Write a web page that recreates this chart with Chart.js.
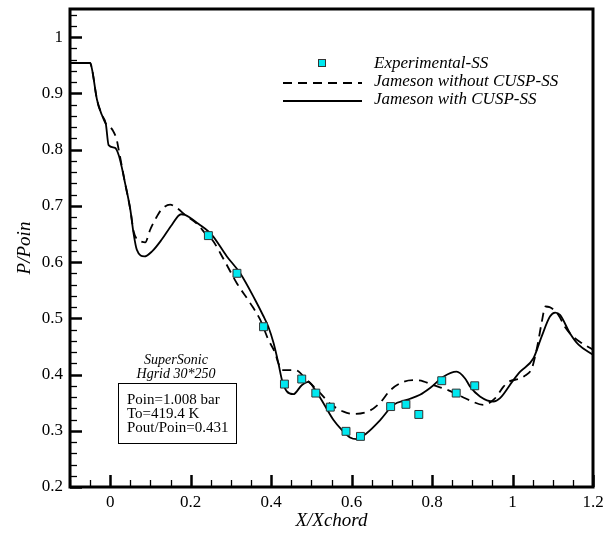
<!DOCTYPE html>
<html>
<head>
<meta charset="utf-8">
<script src="https://cdn.jsdelivr.net/npm/chart.js@4/dist/chart.umd.min.js"></script>
<style>
  html, body { margin: 0; padding: 0; background: #fff; }
</style>
</head>
<body>
<canvas id="grafico" width="616" height="533"></canvas>
<script>
// Experimental points (X/Xchord, P/Poin)
const expX = [0.244, 0.315, 0.381, 0.433, 0.476, 0.511, 0.547, 0.586, 0.622, 0.697, 0.735, 0.767, 0.824, 0.860, 0.906];
const expY = [0.647, 0.580, 0.485, 0.383, 0.392, 0.367, 0.342, 0.299, 0.290, 0.343, 0.347, 0.329, 0.389, 0.367, 0.380];

// Jameson without CUSP (dashed)
const semCuspX = [-0.1, -0.05, -0.045, -0.033, -0.021, -0.011, 0.0, 0.008, 0.016, 0.021, 0.037, 0.050, 0.058, 0.066, 0.075, 0.087,
  0.099, 0.116, 0.128, 0.149, 0.166, 0.186, 0.219, 0.236, 0.253, 0.282, 0.315, 0.348, 0.373, 0.393, 0.410, 0.418, 0.427,
  0.460, 0.489, 0.522, 0.547, 0.580, 0.605, 0.646, 0.671, 0.696, 0.729, 0.754, 0.778, 0.803, 0.837, 0.870, 0.894, 0.927,
  0.957, 0.977, 0.990, 1.019, 1.031, 1.048, 1.056, 1.064, 1.072, 1.082, 1.092, 1.114, 1.130, 1.151, 1.172, 1.2];
const semCuspY = [0.954, 0.954, 0.942, 0.889, 0.862, 0.846, 0.840, 0.832, 0.818, 0.800, 0.740, 0.693, 0.655, 0.641, 0.637, 0.635,
  0.657, 0.681, 0.694, 0.702, 0.696, 0.684, 0.666, 0.651, 0.640, 0.605, 0.562, 0.527, 0.497, 0.462, 0.438, 0.420, 0.408,
  0.408, 0.390, 0.367, 0.348, 0.334, 0.330, 0.336, 0.350, 0.372, 0.387, 0.390, 0.388, 0.381, 0.373, 0.362, 0.354, 0.346,
  0.358, 0.378, 0.387, 0.393, 0.398, 0.411, 0.432, 0.459, 0.491, 0.521, 0.520, 0.506, 0.485, 0.467, 0.456, 0.444];

// Jameson with CUSP (solid)
const comCuspX = [-0.1, -0.05, -0.045, -0.033, -0.021, -0.011, -0.004, 0.012, 0.022, 0.037, 0.050, 0.058, 0.066, 0.085, 0.104,
  0.128, 0.153, 0.176, 0.186, 0.219, 0.253, 0.290, 0.323, 0.360, 0.380, 0.393, 0.406, 0.418, 0.427, 0.439, 0.455, 0.476,
  0.493, 0.509, 0.530, 0.555, 0.575, 0.596, 0.613, 0.638, 0.671, 0.704, 0.737, 0.770, 0.795, 0.828, 0.861, 0.882, 0.894,
  0.919, 0.952, 0.969, 1.002, 1.019, 1.052, 1.072, 1.093, 1.106, 1.118, 1.143, 1.164, 1.2];
const comCuspY = [0.954, 0.954, 0.942, 0.889, 0.862, 0.846, 0.808, 0.803, 0.788, 0.740, 0.693, 0.651, 0.622, 0.610, 0.619,
  0.640, 0.666, 0.685, 0.684, 0.668, 0.648, 0.610, 0.580, 0.533, 0.505, 0.485, 0.456, 0.420, 0.390, 0.370, 0.365, 0.381,
  0.387, 0.373, 0.349, 0.319, 0.302, 0.288, 0.285, 0.296, 0.319, 0.346, 0.355, 0.364, 0.376, 0.396, 0.405, 0.393, 0.379,
  0.361, 0.352, 0.358, 0.390, 0.405, 0.429, 0.467, 0.503, 0.510, 0.506, 0.473, 0.453, 0.435];

// Tick labels
const xTicks = [0, 0.2, 0.4, 0.6, 0.8, 1, 1.2];
const yTicks = [0.2, 0.3, 0.4, 0.5, 0.6, 0.7, 0.8, 0.9, 1];

const serif = '"Liberation Serif", "Times New Roman", serif';
const ciano = 'rgb(0, 232, 240)';

function pares(xs, ys) {
  return xs.map((x, i) => ({ x: x, y: ys[i] }));
}

function formatar(v) {
  return String(+v.toFixed(2));
}

// Inward ticks (major + minor) and the frame
const eixosPlugin = {
  id: 'eixos',
  afterDatasetsDraw(chart) {
    const { ctx, chartArea: a, scales: { x, y } } = chart;
    ctx.save();
    ctx.strokeStyle = '#000';

    for (let i = -2; i <= 24; i++) {
      const v = i * 0.05;
      const px = Math.round(x.getPixelForValue(v)) + 0.5;
      const major = i % 4 === 0;
      ctx.lineWidth = major ? 2.5 : 1.3;
      ctx.beginPath();
      ctx.moveTo(px, a.bottom);
      ctx.lineTo(px, a.bottom - (major ? 12 : 7));
      ctx.stroke();
    }
    for (let i = 10; i <= 52; i++) {
      const v = i * 0.02;
      const py = Math.round(y.getPixelForValue(v)) + 0.5;
      const major = i % 5 === 0;
      ctx.lineWidth = major ? 2.5 : 1.3;
      ctx.beginPath();
      ctx.moveTo(a.left, py);
      ctx.lineTo(a.left + (major ? 12 : 7), py);
      ctx.stroke();
    }

    ctx.lineWidth = 3;
    ctx.strokeRect(a.left, a.top, a.right - a.left, a.bottom - a.top);
    ctx.restore();
  }
};

// Legend and annotation box
const legendaPlugin = {
  id: 'legenda',
  afterDraw(chart) {
    const ctx = chart.ctx;
    const ds = chart.data.datasets;
    ctx.save();
    ctx.fillStyle = '#000';
    ctx.textBaseline = 'middle';
    ctx.textAlign = 'left';
    ctx.font = 'italic 17px ' + serif;
    ctx.fillText(ds[0].label, 374, 64);
    ctx.fillText(ds[1].label, 374, 82);
    ctx.fillText(ds[2].label, 374, 100);

    ctx.fillStyle = ciano;
    ctx.strokeStyle = '#333';
    ctx.lineWidth = 1;
    ctx.fillRect(318.5, 59.5, 7, 7);
    ctx.strokeRect(318.5, 59.5, 7, 7);

    ctx.strokeStyle = '#000';
    ctx.lineWidth = 1.8;
    ctx.setLineDash([9, 6]);
    ctx.beginPath();
    ctx.moveTo(283, 83);
    ctx.lineTo(362, 83);
    ctx.stroke();
    ctx.setLineDash([]);
    ctx.beginPath();
    ctx.moveTo(283, 101);
    ctx.lineTo(362, 101);
    ctx.stroke();

    // Annotation
    ctx.fillStyle = '#000';
    ctx.textAlign = 'center';
    ctx.font = 'italic 14px ' + serif;
    ctx.fillText('SuperSonic', 176, 360);
    ctx.fillText('Hgrid 30*250', 176, 374);
    ctx.lineWidth = 1;
    ctx.strokeRect(118.5, 383.5, 118, 60);
    ctx.textAlign = 'left';
    ctx.font = '15px ' + serif;
    ctx.fillText('Poin=1.008 bar', 127, 400);
    ctx.fillText('To=419.4 K', 127, 414);
    ctx.fillText('Pout/Poin=0.431', 127, 428);
    ctx.restore();
  }
};

function gerarGrafico() {
  const ctx = document.getElementById('grafico').getContext('2d');
  new Chart(ctx, {
    type: 'scatter',
    data: {
      datasets: [{
        label: 'Experimental-SS',
        data: pares(expX, expY),
        pointStyle: 'rect',
        pointRadius: 5.6,
        backgroundColor: ciano,
        borderColor: '#333',
        borderWidth: 1,
        showLine: false
      }, {
        label: 'Jameson without CUSP-SS',
        data: pares(semCuspX, semCuspY),
        showLine: true,
        borderColor: '#000',
        borderWidth: 1.8,
        borderDash: [9, 6],
        pointRadius: 0,
        cubicInterpolationMode: 'monotone'
      }, {
        label: 'Jameson with CUSP-SS',
        data: pares(comCuspX, comCuspY),
        showLine: true,
        borderColor: '#000',
        borderWidth: 1.8,
        pointRadius: 0,
        cubicInterpolationMode: 'monotone'
      }]
    },
    options: {
      responsive: false,
      animation: false,
      devicePixelRatio: 1,
      layout: { padding: { top: 9, right: 23, left: 0, bottom: 0 } },
      plugins: {
        legend: { display: false },
        tooltip: { enabled: false }
      },
      scales: {
        x: {
          type: 'linear',
          min: -0.1,
          max: 1.2,
          afterBuildTicks: s => { s.ticks = xTicks.map(v => ({ value: v })); },
          afterFit: s => { s.height = 46; s.paddingLeft = 0; s.paddingRight = 0; },
          grid: { display: false, drawTicks: false },
          border: { display: false },
          ticks: {
            color: '#000',
            font: { family: serif, size: 17 },
            padding: 5,
            maxRotation: 0,
            autoSkip: false,
            callback: v => formatar(v)
          },
          title: {
            display: true,
            text: 'X/Xchord',
            color: '#000',
            font: { family: serif, size: 19, style: 'italic' },
            padding: { top: 0, bottom: 1 }
          }
        },
        y: {
          type: 'linear',
          min: 0.2,
          max: 1.05,
          afterBuildTicks: s => { s.ticks = yTicks.map(v => ({ value: v })); },
          afterFit: s => { s.width = 70; s.paddingTop = 0; s.paddingBottom = 0; },
          grid: { display: false, drawTicks: false },
          border: { display: false },
          ticks: {
            color: '#000',
            font: { family: serif, size: 17 },
            padding: 7,
            autoSkip: false,
            callback: v => formatar(v)
          },
          title: {
            display: true,
            text: 'P/Poin',
            color: '#000',
            font: { family: serif, size: 19, style: 'italic' },
            padding: { top: 14, bottom: 0 }
          }
        }
      }
    },
    plugins: [eixosPlugin, legendaPlugin]
  });
}

document.addEventListener('DOMContentLoaded', gerarGrafico);
</script>
</body>
</html>
